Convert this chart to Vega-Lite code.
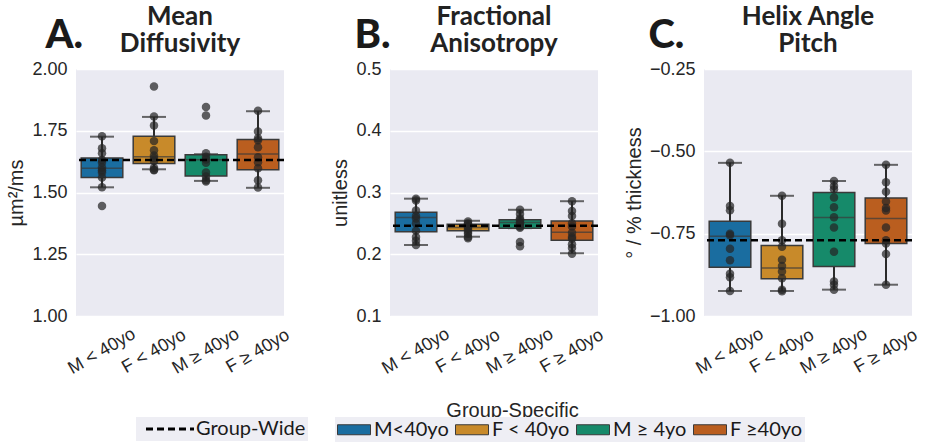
{
  "$schema": "https://vega.github.io/schema/vega-lite/v6.json",
  "background": "white",
  "padding": {"left": 6, "top": 4, "right": 5, "bottom": 2},
  "bounds": "flush",
  "spacing": 106,
  "datasets": {
    "boxes": [
      {"panel": "A", "group": "M < 40yo", "lo": 1.521, "q1": 1.561, "med": 1.598, "q3": 1.640, "hi": 1.726},
      {"panel": "A", "group": "F < 40yo", "lo": 1.594, "q1": 1.617, "med": 1.645, "q3": 1.728, "hi": 1.806},
      {"panel": "A", "group": "M ≥ 40yo", "lo": 1.547, "q1": 1.567, "med": 1.633, "q3": 1.653, "hi": 1.655},
      {"panel": "A", "group": "F ≥ 40yo", "lo": 1.519, "q1": 1.592, "med": 1.656, "q3": 1.715, "hi": 1.829},
      {"panel": "B", "group": "M < 40yo", "lo": 0.215, "q1": 0.2365, "med": 0.2597, "q3": 0.2682, "hi": 0.290},
      {"panel": "B", "group": "F < 40yo", "lo": 0.2284, "q1": 0.238, "med": 0.2435, "q3": 0.2484, "hi": 0.2542},
      {"panel": "B", "group": "M ≥ 40yo", "lo": 0.2423, "q1": 0.2423, "med": 0.2516, "q3": 0.2558, "hi": 0.272},
      {"panel": "B", "group": "F ≥ 40yo", "lo": 0.2016, "q1": 0.2226, "med": 0.2355, "q3": 0.2537, "hi": 0.2859},
      {"panel": "C", "group": "M < 40yo", "lo": -0.924, "q1": -0.852, "med": -0.758, "q3": -0.7125, "hi": -0.535},
      {"panel": "C", "group": "F < 40yo", "lo": -0.924, "q1": -0.887, "med": -0.854, "q3": -0.786, "hi": -0.635},
      {"panel": "C", "group": "M ≥ 40yo", "lo": -0.920, "q1": -0.850, "med": -0.701, "q3": -0.625, "hi": -0.590},
      {"panel": "C", "group": "F ≥ 40yo", "lo": -0.905, "q1": -0.780, "med": -0.704, "q3": -0.642, "hi": -0.541}
    ],
    "means": [
      {"panel": "A", "mean": 1.632},
      {"panel": "B", "mean": 0.2461},
      {"panel": "C", "mean": -0.770}
    ],
    "points": [
      {"panel": "A", "group": "M < 40yo", "value": 1.728}, {"panel": "A", "group": "M < 40yo", "value": 1.679}, {"panel": "A", "group": "M < 40yo", "value": 1.659}, {"panel": "A", "group": "M < 40yo", "value": 1.632}, {"panel": "A", "group": "M < 40yo", "value": 1.621}, {"panel": "A", "group": "M < 40yo", "value": 1.601}, {"panel": "A", "group": "M < 40yo", "value": 1.590}, {"panel": "A", "group": "M < 40yo", "value": 1.581}, {"panel": "A", "group": "M < 40yo", "value": 1.561}, {"panel": "A", "group": "M < 40yo", "value": 1.521}, {"panel": "A", "group": "M < 40yo", "value": 1.445},
      {"panel": "A", "group": "F < 40yo", "value": 1.929}, {"panel": "A", "group": "F < 40yo", "value": 1.808}, {"panel": "A", "group": "F < 40yo", "value": 1.771}, {"panel": "A", "group": "F < 40yo", "value": 1.708}, {"panel": "A", "group": "F < 40yo", "value": 1.671}, {"panel": "A", "group": "F < 40yo", "value": 1.650}, {"panel": "A", "group": "F < 40yo", "value": 1.640}, {"panel": "A", "group": "F < 40yo", "value": 1.628}, {"panel": "A", "group": "F < 40yo", "value": 1.600}, {"panel": "A", "group": "F < 40yo", "value": 1.592}, {"panel": "A", "group": "F < 40yo", "value": 1.590},
      {"panel": "A", "group": "M ≥ 40yo", "value": 1.846}, {"panel": "A", "group": "M ≥ 40yo", "value": 1.812}, {"panel": "A", "group": "M ≥ 40yo", "value": 1.659}, {"panel": "A", "group": "M ≥ 40yo", "value": 1.645}, {"panel": "A", "group": "M ≥ 40yo", "value": 1.634}, {"panel": "A", "group": "M ≥ 40yo", "value": 1.620}, {"panel": "A", "group": "M ≥ 40yo", "value": 1.581}, {"panel": "A", "group": "M ≥ 40yo", "value": 1.565}, {"panel": "A", "group": "M ≥ 40yo", "value": 1.550}, {"panel": "A", "group": "M ≥ 40yo", "value": 1.545},
      {"panel": "A", "group": "F ≥ 40yo", "value": 1.831}, {"panel": "A", "group": "F ≥ 40yo", "value": 1.747}, {"panel": "A", "group": "F ≥ 40yo", "value": 1.720}, {"panel": "A", "group": "F ≥ 40yo", "value": 1.712}, {"panel": "A", "group": "F ≥ 40yo", "value": 1.683}, {"panel": "A", "group": "F ≥ 40yo", "value": 1.643}, {"panel": "A", "group": "F ≥ 40yo", "value": 1.622}, {"panel": "A", "group": "F ≥ 40yo", "value": 1.598}, {"panel": "A", "group": "F ≥ 40yo", "value": 1.550}, {"panel": "A", "group": "F ≥ 40yo", "value": 1.520},
      {"panel": "B", "group": "M < 40yo", "value": 0.290}, {"panel": "B", "group": "M < 40yo", "value": 0.287}, {"panel": "B", "group": "M < 40yo", "value": 0.271}, {"panel": "B", "group": "M < 40yo", "value": 0.262}, {"panel": "B", "group": "M < 40yo", "value": 0.258}, {"panel": "B", "group": "M < 40yo", "value": 0.250}, {"panel": "B", "group": "M < 40yo", "value": 0.238}, {"panel": "B", "group": "M < 40yo", "value": 0.228}, {"panel": "B", "group": "M < 40yo", "value": 0.222}, {"panel": "B", "group": "M < 40yo", "value": 0.215},
      {"panel": "B", "group": "F < 40yo", "value": 0.253}, {"panel": "B", "group": "F < 40yo", "value": 0.250}, {"panel": "B", "group": "F < 40yo", "value": 0.248}, {"panel": "B", "group": "F < 40yo", "value": 0.245}, {"panel": "B", "group": "F < 40yo", "value": 0.243}, {"panel": "B", "group": "F < 40yo", "value": 0.240}, {"panel": "B", "group": "F < 40yo", "value": 0.236}, {"panel": "B", "group": "F < 40yo", "value": 0.233}, {"panel": "B", "group": "F < 40yo", "value": 0.228}, {"panel": "B", "group": "F < 40yo", "value": 0.226},
      {"panel": "B", "group": "M ≥ 40yo", "value": 0.272}, {"panel": "B", "group": "M ≥ 40yo", "value": 0.265}, {"panel": "B", "group": "M ≥ 40yo", "value": 0.258}, {"panel": "B", "group": "M ≥ 40yo", "value": 0.255}, {"panel": "B", "group": "M ≥ 40yo", "value": 0.252}, {"panel": "B", "group": "M ≥ 40yo", "value": 0.250}, {"panel": "B", "group": "M ≥ 40yo", "value": 0.248}, {"panel": "B", "group": "M ≥ 40yo", "value": 0.245}, {"panel": "B", "group": "M ≥ 40yo", "value": 0.243}, {"panel": "B", "group": "M ≥ 40yo", "value": 0.220}, {"panel": "B", "group": "M ≥ 40yo", "value": 0.213},
      {"panel": "B", "group": "F ≥ 40yo", "value": 0.286}, {"panel": "B", "group": "F ≥ 40yo", "value": 0.270}, {"panel": "B", "group": "F ≥ 40yo", "value": 0.262}, {"panel": "B", "group": "F ≥ 40yo", "value": 0.250}, {"panel": "B", "group": "F ≥ 40yo", "value": 0.245}, {"panel": "B", "group": "F ≥ 40yo", "value": 0.235}, {"panel": "B", "group": "F ≥ 40yo", "value": 0.228}, {"panel": "B", "group": "F ≥ 40yo", "value": 0.225}, {"panel": "B", "group": "F ≥ 40yo", "value": 0.216}, {"panel": "B", "group": "F ≥ 40yo", "value": 0.210}, {"panel": "B", "group": "F ≥ 40yo", "value": 0.201},
      {"panel": "C", "group": "M < 40yo", "value": -0.535}, {"panel": "C", "group": "M < 40yo", "value": -0.666}, {"panel": "C", "group": "M < 40yo", "value": -0.679}, {"panel": "C", "group": "M < 40yo", "value": -0.750}, {"panel": "C", "group": "M < 40yo", "value": -0.755}, {"panel": "C", "group": "M < 40yo", "value": -0.796}, {"panel": "C", "group": "M < 40yo", "value": -0.831}, {"panel": "C", "group": "M < 40yo", "value": -0.872}, {"panel": "C", "group": "M < 40yo", "value": -0.882}, {"panel": "C", "group": "M < 40yo", "value": -0.924},
      {"panel": "C", "group": "F < 40yo", "value": -0.635}, {"panel": "C", "group": "F < 40yo", "value": -0.720}, {"panel": "C", "group": "F < 40yo", "value": -0.770}, {"panel": "C", "group": "F < 40yo", "value": -0.790}, {"panel": "C", "group": "F < 40yo", "value": -0.829}, {"panel": "C", "group": "F < 40yo", "value": -0.848}, {"panel": "C", "group": "F < 40yo", "value": -0.865}, {"panel": "C", "group": "F < 40yo", "value": -0.885}, {"panel": "C", "group": "F < 40yo", "value": -0.920}, {"panel": "C", "group": "F < 40yo", "value": -0.925},
      {"panel": "C", "group": "M ≥ 40yo", "value": -0.590}, {"panel": "C", "group": "M ≥ 40yo", "value": -0.605}, {"panel": "C", "group": "M ≥ 40yo", "value": -0.615}, {"panel": "C", "group": "M ≥ 40yo", "value": -0.640}, {"panel": "C", "group": "M ≥ 40yo", "value": -0.670}, {"panel": "C", "group": "M ≥ 40yo", "value": -0.700}, {"panel": "C", "group": "M ≥ 40yo", "value": -0.731}, {"panel": "C", "group": "M ≥ 40yo", "value": -0.805}, {"panel": "C", "group": "M ≥ 40yo", "value": -0.895}, {"panel": "C", "group": "M ≥ 40yo", "value": -0.905}, {"panel": "C", "group": "M ≥ 40yo", "value": -0.920},
      {"panel": "C", "group": "F ≥ 40yo", "value": -0.541}, {"panel": "C", "group": "F ≥ 40yo", "value": -0.594}, {"panel": "C", "group": "F ≥ 40yo", "value": -0.623}, {"panel": "C", "group": "F ≥ 40yo", "value": -0.652}, {"panel": "C", "group": "F ≥ 40yo", "value": -0.672}, {"panel": "C", "group": "F ≥ 40yo", "value": -0.680}, {"panel": "C", "group": "F ≥ 40yo", "value": -0.731}, {"panel": "C", "group": "F ≥ 40yo", "value": -0.770}, {"panel": "C", "group": "F ≥ 40yo", "value": -0.780}, {"panel": "C", "group": "F ≥ 40yo", "value": -0.812}, {"panel": "C", "group": "F ≥ 40yo", "value": -0.905}
    ]
  },
  "hconcat": [
    {
      "width": 208, "height": 247,
      "title": {"text": ["Mean", "Diffusivity"]},
      "resolve": {"axis": {"x": "independent"}},
      "layer": [
        {"data": {"name": "boxes"}, "transform": [{"filter": "datum.panel === 'A'"}],
         "mark": {"type": "rule", "color": "#2b2b2b", "strokeWidth": 2},
         "encoding": {
           "x": {"field": "group", "type": "nominal", "sort": ["M < 40yo", "F < 40yo", "M ≥ 40yo", "F ≥ 40yo"], "scale": {"domain": ["M < 40yo", "F < 40yo", "M ≥ 40yo", "F ≥ 40yo"], "paddingInner": 0, "paddingOuter": 0}, "title": "A.",
                 "axis": {"titleX": -31, "titleY": -269, "titleAlign": "left", "titleBaseline": "alphabetic", "titleAngle": 0, "titleFont": "Lato", "titleFontSize": 40, "titleFontWeight": 900, "titleColor": "#1a1a1a"}},
           "y": {"field": "lo", "type": "quantitative", "scale": {"domain": [1, 2], "nice": false, "zero": false}, "axis": {"values": [1, 1.25, 1.5, 1.75, 2], "format": ".2f"}, "title": "µm²/ms"},
           "y2": {"field": "hi"}}},
        {"data": {"name": "boxes"}, "transform": [{"filter": "datum.panel === 'A'"}],
         "mark": {"type": "tick", "color": "#2b2b2b", "thickness": 2, "size": 24},
         "encoding": {"x": {"field": "group", "type": "nominal", "axis": null}, "y": {"field": "lo", "type": "quantitative", "title": "µm²/ms"}}},
        {"data": {"name": "boxes"}, "transform": [{"filter": "datum.panel === 'A'"}],
         "mark": {"type": "tick", "color": "#2b2b2b", "thickness": 2, "size": 24},
         "encoding": {"x": {"field": "group", "type": "nominal", "axis": null}, "y": {"field": "hi", "type": "quantitative", "title": "µm²/ms"}}},
        {"data": {"name": "boxes"}, "transform": [{"filter": "datum.panel === 'A'"}],
         "mark": {"type": "bar", "width": {"band": 0.8}, "stroke": "#3a3a3a", "strokeWidth": 1.5, "opacity": 1},
         "encoding": {"x": {"field": "group", "type": "nominal", "axis": null}, "y": {"field": "q1", "type": "quantitative", "title": "µm²/ms"}, "y2": {"field": "q3"},
           "color": {"field": "group", "type": "nominal",
             "scale": {"domain": ["M < 40yo", "F < 40yo", "M ≥ 40yo", "F ≥ 40yo"], "range": ["#1a6da0", "#c88a2a", "#168a6a", "#ba5e1f"]},
             "legend": {
               "orient": "none", "legendX": 259, "legendY": 348, "direction": "horizontal", "columns": 4, "title": null,
               "fillColor": "#eeeef4", "padding": 2,
               "labelFont": "Lato", "labelFontSize": 20, "labelColor": "#1a1a1a", "labelOffset": 9.5, "columnPadding": 4,
               "symbolType": "M-1.65,-0.5H1.65V0.5H-1.65Z", "symbolSize": 400, "symbolOffset": 6.5, "symbolStrokeColor": "#333333", "symbolStrokeWidth": 1, "symbolOpacity": 1, "labelLimit": 300,
               "labelExpr": "datum.label == 'M < 40yo' ? 'M<40yo' : datum.label == 'M ≥ 40yo' ? 'M ≥ 4yo' : datum.label == 'F ≥ 40yo' ? 'F ≥40yo' : datum.label"
             }}}},
        {"data": {"name": "boxes"}, "transform": [{"filter": "datum.panel === 'A'"}],
         "mark": {"type": "tick", "color": "#3a3a3a", "thickness": 1.5, "size": 42},
         "encoding": {"x": {"field": "group", "type": "nominal", "axis": null}, "y": {"field": "med", "type": "quantitative", "title": "µm²/ms"}}},
        {"data": {"name": "points"}, "transform": [{"filter": "datum.panel === 'A'"}],
         "mark": {"type": "circle", "size": 72, "color": "#262626", "opacity": 0.72},
         "encoding": {"x": {"field": "group", "type": "nominal", "axis": null}, "y": {"field": "value", "type": "quantitative", "title": "µm²/ms"}}},
        {"data": {"name": "means"}, "transform": [{"filter": "datum.panel === 'A'"}],
         "mark": {"type": "rule", "strokeWidth": 2.5, "color": "#000000"},
         "encoding": {"y": {"field": "mean", "type": "quantitative", "title": "µm²/ms"},
           "strokeDash": {"datum": "Group-Wide", "type": "nominal", "scale": {"domain": ["Group-Wide"], "range": [[7, 4]]},
             "legend": {
               "orient": "none", "legendX": 60, "legendY": 348, "title": null,
               "fillColor": "#eeeef4", "padding": 2,
               "labelFont": "Lato", "labelFontSize": 20, "labelColor": "#1a1a1a", "labelOffset": 16,
               "labelExpr": "datum.label + '\u00a0\u00a0\u00a0\u00a0\u00a0\u00a0\u00a0'",
               "symbolType": "M-4.8,0H4.8", "symbolSize": 100, "symbolOffset": 22, "symbolStrokeColor": "#000000", "symbolStrokeWidth": 3, "symbolOpacity": 1, "labelLimit": 300
             }}}}
      ]
    },
    {
      "width": 208, "height": 247,
      "title": {"text": ["Fractional", "Anisotropy"]},
      "resolve": {"axis": {"x": "independent"}},
      "layer": [
        {"data": {"name": "boxes"}, "transform": [{"filter": "datum.panel === 'B'"}],
         "mark": {"type": "rule", "color": "#2b2b2b", "strokeWidth": 2},
         "encoding": {
           "x": {"field": "group", "type": "nominal", "sort": ["M < 40yo", "F < 40yo", "M ≥ 40yo", "F ≥ 40yo"], "scale": {"domain": ["M < 40yo", "F < 40yo", "M ≥ 40yo", "F ≥ 40yo"], "paddingInner": 0, "paddingOuter": 0}, "title": "B.",
                 "axis": {"orient": "bottom", "titleX": -36, "titleY": -269, "titleAlign": "left", "titleBaseline": "alphabetic", "titleAngle": 0, "titleFont": "Lato", "titleFontSize": 40, "titleFontWeight": 900, "titleColor": "#1a1a1a"}},
           "y": {"field": "lo", "type": "quantitative", "scale": {"domain": [0.1, 0.5], "nice": false, "zero": false}, "axis": {"values": [0.1, 0.2, 0.3, 0.4, 0.5], "format": ".1f"}, "title": "unitless"},
           "y2": {"field": "hi"}}},
        {"data": {"name": "boxes"}, "transform": [{"filter": "datum.panel === 'B'"}],
         "mark": {"type": "tick", "color": "#2b2b2b", "thickness": 2, "size": 24},
         "encoding": {"x": {"field": "group", "type": "nominal", "axis": null}, "y": {"field": "lo", "type": "quantitative", "title": "unitless"}}},
        {"data": {"name": "boxes"}, "transform": [{"filter": "datum.panel === 'B'"}],
         "mark": {"type": "tick", "color": "#2b2b2b", "thickness": 2, "size": 24},
         "encoding": {"x": {"field": "group", "type": "nominal", "axis": null}, "y": {"field": "hi", "type": "quantitative", "title": "unitless"}}},
        {"data": {"name": "boxes"}, "transform": [{"filter": "datum.panel === 'B'"}],
         "mark": {"type": "bar", "width": {"band": 0.8}, "stroke": "#3a3a3a", "strokeWidth": 1.5, "opacity": 1},
         "encoding": {"x": {"field": "group", "type": "nominal", "axis": null}, "y": {"field": "q1", "type": "quantitative", "title": "unitless"}, "y2": {"field": "q3"},
           "color": {"field": "group", "type": "nominal", "scale": {"domain": ["M < 40yo", "F < 40yo", "M ≥ 40yo", "F ≥ 40yo"], "range": ["#1a6da0", "#c88a2a", "#168a6a", "#ba5e1f"]}}}},
        {"data": {"name": "boxes"}, "transform": [{"filter": "datum.panel === 'B'"}],
         "mark": {"type": "tick", "color": "#3a3a3a", "thickness": 1.5, "size": 42},
         "encoding": {"x": {"field": "group", "type": "nominal", "axis": null}, "y": {"field": "med", "type": "quantitative", "title": "unitless"}}},
        {"data": {"name": "points"}, "transform": [{"filter": "datum.panel === 'B'"}],
         "mark": {"type": "circle", "size": 72, "color": "#262626", "opacity": 0.72},
         "encoding": {"x": {"field": "group", "type": "nominal", "title": "Group-Specific",
                 "axis": {"orient": "bottom", "labels": false, "grid": false, "titleX": 122, "titleY": 100, "titleBaseline": "alphabetic", "titleAngle": 0}},
                 "y": {"field": "value", "type": "quantitative", "title": "unitless"}}},
        {"data": {"name": "means"}, "transform": [{"filter": "datum.panel === 'B'"}],
         "mark": {"type": "rule", "strokeWidth": 2.5, "color": "#000000"},
         "encoding": {"y": {"field": "mean", "type": "quantitative", "title": "unitless"},
           "strokeDash": {"datum": "Group-Wide", "type": "nominal", "scale": {"domain": ["Group-Wide"], "range": [[7, 4]]}}}}
      ]
    },
    {
      "width": 208, "height": 247,
      "title": {"text": ["Helix Angle", "Pitch"]},
      "resolve": {"axis": {"x": "independent"}},
      "layer": [
        {"data": {"name": "boxes"}, "transform": [{"filter": "datum.panel === 'C'"}],
         "mark": {"type": "rule", "color": "#2b2b2b", "strokeWidth": 2},
         "encoding": {
           "x": {"field": "group", "type": "nominal", "sort": ["M < 40yo", "F < 40yo", "M ≥ 40yo", "F ≥ 40yo"], "scale": {"domain": ["M < 40yo", "F < 40yo", "M ≥ 40yo", "F ≥ 40yo"], "paddingInner": 0, "paddingOuter": 0}, "title": "C.",
                 "axis": {"titleX": -56, "titleY": -269, "titleAlign": "left", "titleBaseline": "alphabetic", "titleAngle": 0, "titleFont": "Lato", "titleFontSize": 40, "titleFontWeight": 900, "titleColor": "#1a1a1a"}},
           "y": {"field": "lo", "type": "quantitative", "scale": {"domain": [-1, -0.25], "nice": false, "zero": false}, "axis": {"values": [-1, -0.75, -0.5, -0.25], "format": ".2f"}, "title": "° / % thickness"},
           "y2": {"field": "hi"}}},
        {"data": {"name": "boxes"}, "transform": [{"filter": "datum.panel === 'C'"}],
         "mark": {"type": "tick", "color": "#2b2b2b", "thickness": 2, "size": 24},
         "encoding": {"x": {"field": "group", "type": "nominal", "axis": null}, "y": {"field": "lo", "type": "quantitative", "title": "° / % thickness"}}},
        {"data": {"name": "boxes"}, "transform": [{"filter": "datum.panel === 'C'"}],
         "mark": {"type": "tick", "color": "#2b2b2b", "thickness": 2, "size": 24},
         "encoding": {"x": {"field": "group", "type": "nominal", "axis": null}, "y": {"field": "hi", "type": "quantitative", "title": "° / % thickness"}}},
        {"data": {"name": "boxes"}, "transform": [{"filter": "datum.panel === 'C'"}],
         "mark": {"type": "bar", "width": {"band": 0.8}, "stroke": "#3a3a3a", "strokeWidth": 1.5, "opacity": 1},
         "encoding": {"x": {"field": "group", "type": "nominal", "axis": null}, "y": {"field": "q1", "type": "quantitative", "title": "° / % thickness"}, "y2": {"field": "q3"},
           "color": {"field": "group", "type": "nominal", "scale": {"domain": ["M < 40yo", "F < 40yo", "M ≥ 40yo", "F ≥ 40yo"], "range": ["#1a6da0", "#c88a2a", "#168a6a", "#ba5e1f"]}}}},
        {"data": {"name": "boxes"}, "transform": [{"filter": "datum.panel === 'C'"}],
         "mark": {"type": "tick", "color": "#3a3a3a", "thickness": 1.5, "size": 42},
         "encoding": {"x": {"field": "group", "type": "nominal", "axis": null}, "y": {"field": "med", "type": "quantitative", "title": "° / % thickness"}}},
        {"data": {"name": "points"}, "transform": [{"filter": "datum.panel === 'C'"}],
         "mark": {"type": "circle", "size": 72, "color": "#262626", "opacity": 0.72},
         "encoding": {"x": {"field": "group", "type": "nominal", "axis": null}, "y": {"field": "value", "type": "quantitative", "title": "° / % thickness"}}},
        {"data": {"name": "means"}, "transform": [{"filter": "datum.panel === 'C'"}],
         "mark": {"type": "rule", "strokeWidth": 2.5, "color": "#000000"},
         "encoding": {"y": {"field": "mean", "type": "quantitative", "title": "° / % thickness"},
           "strokeDash": {"datum": "Group-Wide", "type": "nominal", "scale": {"domain": ["Group-Wide"], "range": [[7, 4]]}}}}
      ]
    }
  ],
  "config": {
    "view": {"fill": "#EAEAF2", "stroke": null},
    "title": {"font": "Lato", "fontWeight": "bold", "fontSize": 26, "lineHeight": 27, "color": "#222222", "offset": -42},
    "axis": {"labelFont": "Liberation Sans", "titleFont": "Liberation Sans", "labelFontSize": 18, "titleFontSize": 20, "labelColor": "#262626", "titleColor": "#262626", "titleFontWeight": "normal", "domain": false, "ticks": false, "tickSize": 0},
    "axisY": {"grid": true, "gridColor": "#ffffff", "gridWidth": 1.3, "labelPadding": 9, "titlePadding": 5},
    "axisX": {"grid": false, "labelAngle": -30, "labelAlign": "center", "labelBaseline": "middle", "labelPadding": 35}
  }
}
